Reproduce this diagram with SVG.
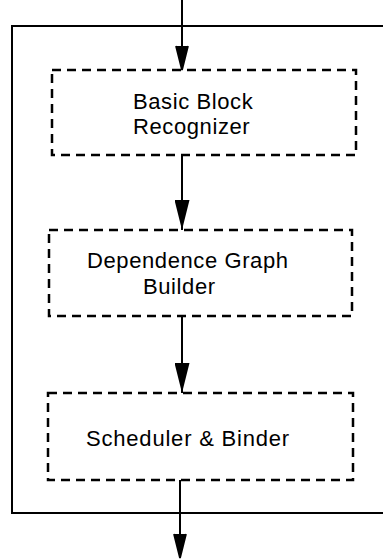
<svg xmlns="http://www.w3.org/2000/svg" width="383" height="560" viewBox="0 0 383 560">
<style>
.box{fill:none;stroke:#000;stroke-width:2.5;stroke-dasharray:9 6}
.frame{fill:none;stroke:#000;stroke-width:2}
.conn{fill:none;stroke:#000;stroke-width:2}
.lbl{font-family:"Liberation Sans",Arial,Helvetica,sans-serif;font-size:22px;fill:#000;letter-spacing:0.6px}
</style>
<defs>
<marker id="open" viewBox="0 0 26 14" refX="25" refY="7" markerWidth="26" markerHeight="14" markerUnits="userSpaceOnUse" orient="auto">
<path d="M1,1 L25,7 L1,13 M10,4 L25,7 L10,10 Z" fill="#000" stroke="#000" stroke-width="1.8" stroke-linejoin="miter"/>
</marker>
<marker id="filled" viewBox="0 0 30 15" refX="30" refY="7.5" markerWidth="30" markerHeight="15" markerUnits="userSpaceOnUse" orient="auto">
<path d="M0,0 L30,7.5 L0,15 Z" fill="#000"/>
</marker>
</defs>
<g id="frame">
<path class="frame" d="M383,26 H12 V513 H383"/>
</g>
<g id="basic-block-recognizer">
<rect class="box" x="52" y="70" width="304" height="85"/>
<text class="lbl" x="133" y="109">Basic Block</text>
<text class="lbl" x="133" y="134">Recognizer</text>
</g>
<g id="dependence-graph-builder">
<rect class="box" x="49" y="230" width="303" height="86"/>
<text class="lbl" x="87" y="268">Dependence Graph</text>
<text class="lbl" x="143" y="294">Builder</text>
</g>
<g id="scheduler-binder">
<rect class="box" x="48" y="393" width="305" height="87"/>
<text class="lbl" x="86" y="446" style="letter-spacing:0.8px">Scheduler &amp; Binder</text>
</g>
<g id="connectors">
<line class="conn" x1="182" y1="0" x2="182" y2="70" marker-end="url(#open)"/>
<line class="conn" x1="182" y1="155" x2="182" y2="230" marker-end="url(#filled)"/>
<line class="conn" x1="182" y1="316" x2="182" y2="393" marker-end="url(#filled)"/>
<line class="conn" x1="180" y1="480" x2="180" y2="558" marker-end="url(#open)"/>
</g>
</svg>
